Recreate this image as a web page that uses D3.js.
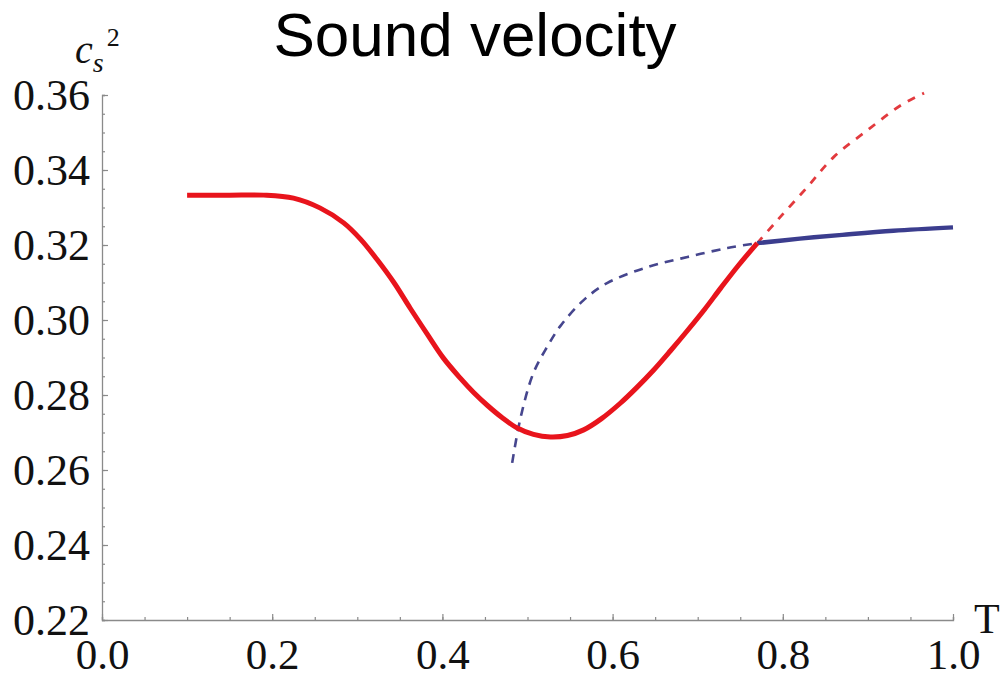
<!DOCTYPE html>
<html>
<head>
<meta charset="utf-8">
<script src="https://cdn.jsdelivr.net/npm/d3@7"></script>
<style>
  body { margin: 0; background: #fff; }
  svg { display: block; }
</style>
</head>
<body>
<script>
// values
let redT = [0.10, 0.15, 0.19, 0.225, 0.256, 0.284, 0.304, 0.323, 0.343, 0.362, 0.382, 0.401, 0.421, 0.437, 0.453, 0.47, 0.488, 0.507, 0.527, 0.547, 0.566, 0.587, 0.609, 0.628, 0.648, 0.668, 0.688, 0.708, 0.727, 0.748, 0.77],
    redV = [0.3333, 0.3333, 0.3333, 0.3325, 0.3299, 0.3259, 0.3215, 0.3162, 0.3100, 0.3032, 0.2963, 0.2899, 0.2845, 0.2806, 0.2772, 0.2740, 0.2712, 0.2695, 0.2688, 0.2692, 0.2707, 0.2737, 0.2778, 0.2819, 0.2866, 0.2918, 0.2972, 0.3028, 0.3085, 0.3146, 0.3205],
    redDashT = [0.77, 0.794, 0.829, 0.86, 0.90, 0.939, 0.966],
    redDashV = [0.3205, 0.3267, 0.3355, 0.3435, 0.3507, 0.3573, 0.3605],
    blueDashT = [0.482, 0.492, 0.507, 0.523, 0.539, 0.566, 0.594, 0.641, 0.688, 0.735, 0.77],
    blueDashV = [0.2619, 0.2741, 0.2859, 0.2928, 0.2985, 0.3053, 0.3099, 0.3141, 0.3168, 0.3192, 0.3205],
    blueT = [0.77, 0.82, 0.87, 0.93, 1.0],
    blueV = [0.3205, 0.3217, 0.3227, 0.3238, 0.3247];

let xTicks = [0, 0.2, 0.4, 0.6, 0.8, 1.0],
    yTicks = [0.22, 0.24, 0.26, 0.28, 0.30, 0.32, 0.34, 0.36],
    xMinor = d3.range(0, 1.0001, 0.05),
    yMinor = d3.range(0.22, 0.3601, 0.005);

let w = 1005, h = 677;
let axisColor = '#8a8a8a';

let svg = d3.select('body')
  .append('svg')
  .attr('width', w)
  .attr('height', h);

let x = d3.scaleLinear().domain([0, 1]).range([102, 953]);
let y = d3.scaleLinear().domain([0.22, 0.36]).range([620, 95]);

// title
svg.append('text')
  .text('Sound velocity')
  .attr('x', 475)
  .attr('y', 56)
  .attr('text-anchor', 'middle')
  .style('font-family', '"Liberation Sans", Arial, sans-serif')
  .style('font-size', '62px')
  .style('fill', '#000');

// x axis (ticks inward, Mathematica look)
let xAxis = svg.append('g')
  .attr('transform', `translate(0,${y(0.22)})`);
xAxis.call(d3.axisBottom(x).tickValues(xMinor).tickSize(-3).tickFormat(''));
xAxis.append('g')
  .call(d3.axisBottom(x).tickValues(xTicks).tickSize(-6).tickFormat(d3.format('.1f')))
  .select('.domain').remove();

let yAxis = svg.append('g')
  .attr('transform', `translate(${x(0)},0)`);
yAxis.call(d3.axisLeft(y).tickValues(yMinor).tickSize(-3).tickFormat(''));
yAxis.append('g')
  .call(d3.axisLeft(y).tickValues(yTicks).tickSize(-6).tickFormat(d3.format('.2f')))
  .select('.domain').remove();

svg.selectAll('.domain').attr('stroke', axisColor).attr('stroke-width', 1.3);
svg.selectAll('.tick line').attr('stroke', axisColor).attr('stroke-width', 1.2);
svg.selectAll('.tick text')
  .attr('font-family', null)
  .style('font-family', '"Liberation Serif", "Times New Roman", serif')
  .style('fill', '#111');

xAxis.selectAll('.tick text')
  .style('font-size', '43px')
  .attr('y', 18)
  .attr('dy', '0.71em');
yAxis.selectAll('.tick text')
  .style('font-size', '44px')
  .attr('x', -12)
  .attr('dy', '0.34em');

// axis labels
let yl = svg.append('text')
  .attr('x', 75)
  .attr('y', 63)
  .style('font-family', '"Liberation Serif", "Times New Roman", serif')
  .style('fill', '#111');
yl.append('tspan').text('c').style('font-style', 'italic').style('font-size', '40px');
yl.append('tspan').text('s').style('font-style', 'italic').style('font-size', '28px').attr('dy', 9);
yl.append('tspan').text('2').style('font-size', '26px').attr('dx', 3).attr('dy', -26);

svg.append('text')
  .text('T')
  .attr('x', 974)
  .attr('y', 633)
  .style('font-family', '"Liberation Serif", "Times New Roman", serif')
  .style('font-size', '42px')
  .style('fill', '#111');

// curves
let line = d3.line()
  .x(d => x(d[0]))
  .y(d => y(d[1]))
  .curve(d3.curveCatmullRom.alpha(0.5));

let zipT = (ts, vs) => ts.map((t, i) => [t, vs[i]]);

svg.append('path')
  .datum(zipT(blueDashT, blueDashV))
  .attr('d', line)
  .attr('fill', 'none')
  .attr('stroke', '#46468e')
  .attr('stroke-width', 2.6)
  .attr('stroke-dasharray', '9,7');

svg.append('path')
  .datum(zipT(redDashT, redDashV))
  .attr('d', line)
  .attr('fill', 'none')
  .attr('stroke', '#e23a3e')
  .attr('stroke-width', 2.8)
  .attr('stroke-dasharray', '8,8');

svg.append('path')
  .datum(zipT(blueT, blueV))
  .attr('d', line)
  .attr('fill', 'none')
  .attr('stroke', '#3b3d8e')
  .attr('stroke-width', 4.5);

svg.append('path')
  .datum(zipT(redT, redV))
  .attr('d', line)
  .attr('fill', 'none')
  .attr('stroke', '#e8141c')
  .attr('stroke-width', 5);
</script>
</body>
</html>
